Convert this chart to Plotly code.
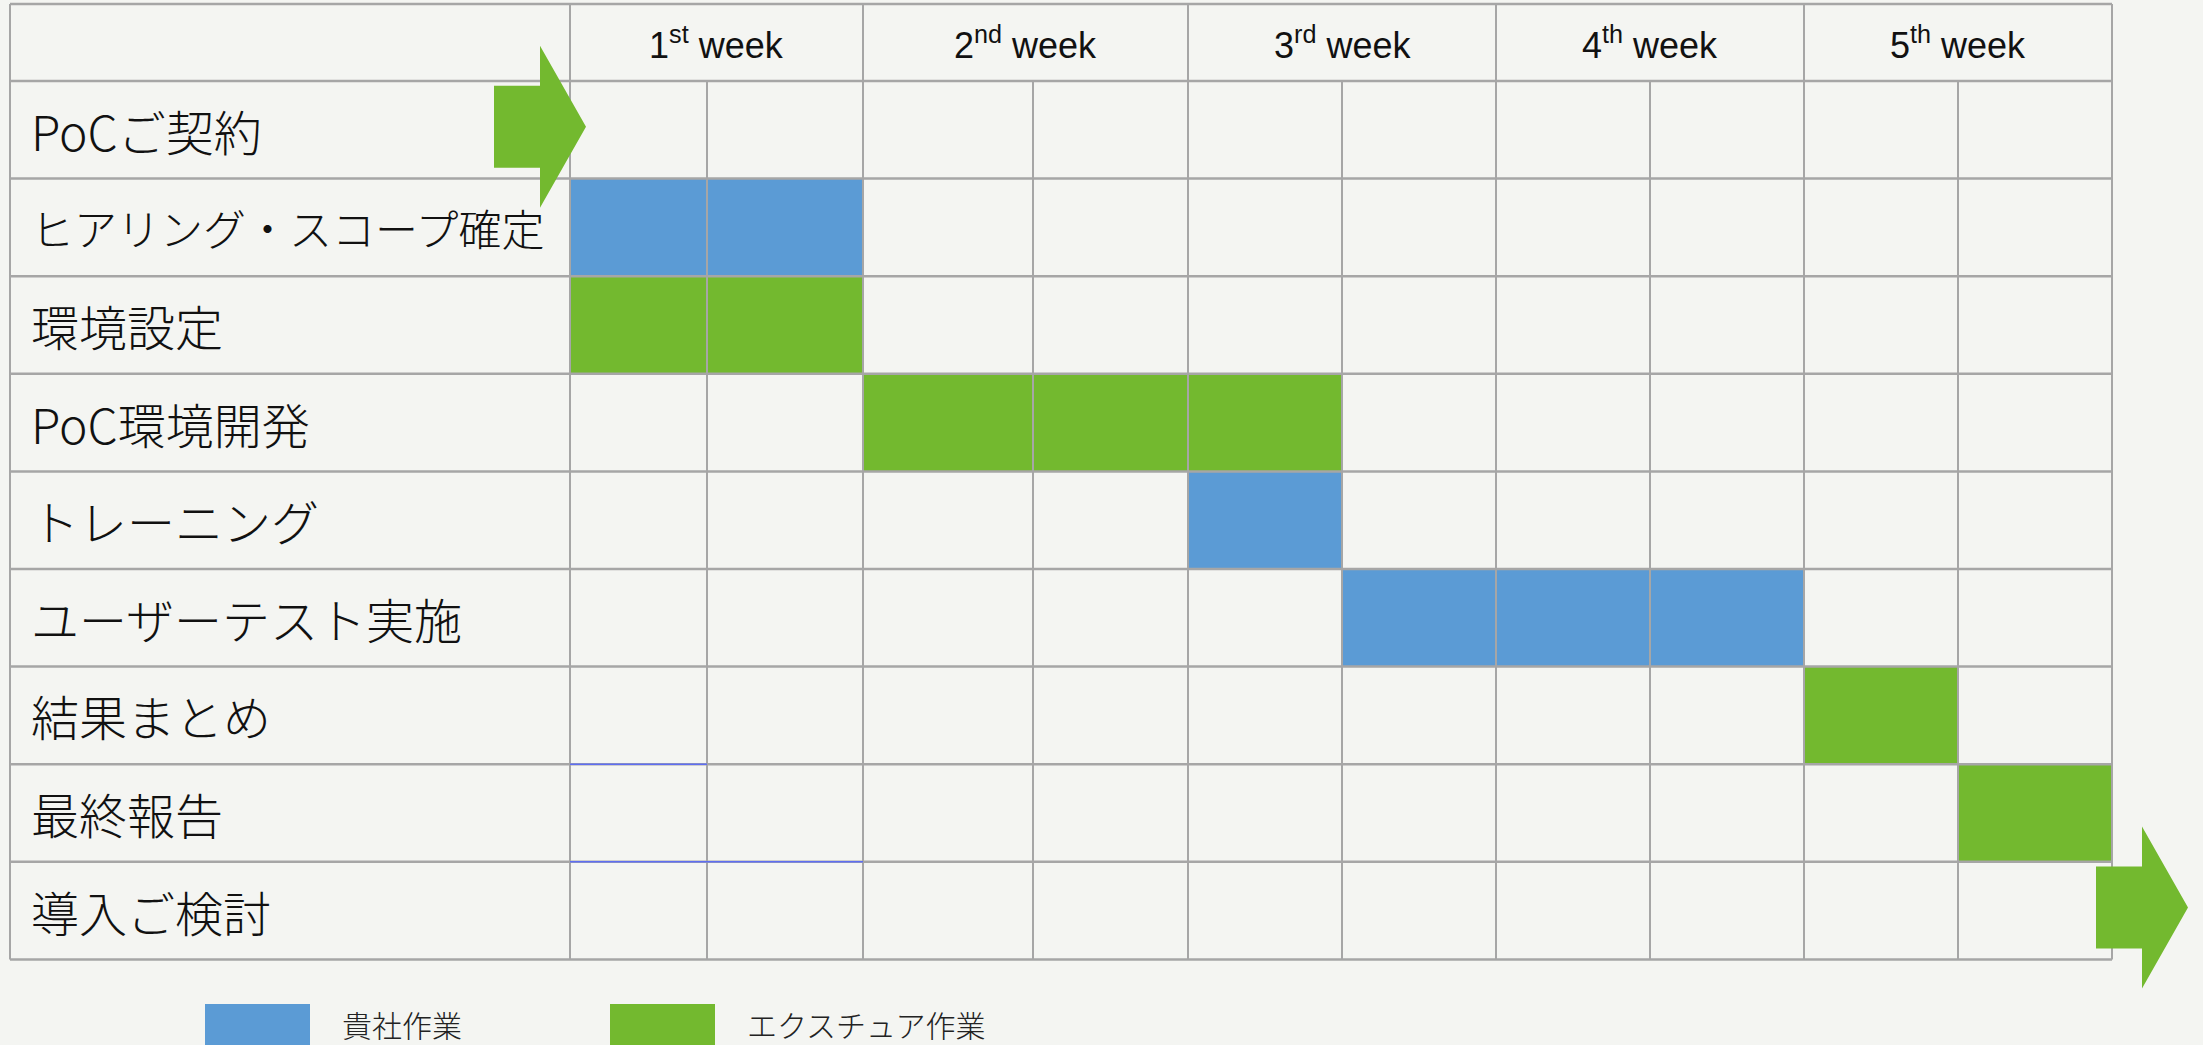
import plotly.graph_objects as go

# ---------------- data ----------------
tasks = ["PoCご契約", "ヒアリング・スコープ確定", "環境設定", "PoC環境開発", "トレーニング",
         "ユーザーテスト実施", "結果まとめ", "最終報告", "導入ご検討"]
weeks = ["1<sup>st</sup> week", "2<sup>nd</sup> week", "3<sup>rd</sup> week",
         "4<sup>th</sup> week", "5<sup>th</sup> week"]
series_names = ["貴社作業", "エクスチュア作業"]
# bars: task row, start half-week slot, end half-week slot, series index
bar_rows = [1, 2, 3, 4, 5, 6, 7]
bar_start = [0, 0, 2, 4, 5, 8, 9]
bar_end = [2, 2, 5, 5, 8, 9, 10]
bar_series = [0, 1, 1, 0, 0, 1, 1]
# arrows (milestones): task row, slot edge anchor
arrow_rows = [0, 8]
arrow_edge = [0, 10]

# ---------------- layout constants ----------------
W, H = 2203, 1045
BG = "#F4F5F2"
GRID = "#A6A6A6"
COLORS = ["#5B9BD5", "#73B92F"]
TABLE_L, LABEL_R = 10, 570
slot_edges = [570, 707, 863, 1033, 1188, 1342, 1496, 1650, 1804, 1958, 2112]
TABLE_R = slot_edges[-1]
HEAD_T, HEAD_B = 4, 81
ROW_H = 97.6
row_edges = [HEAD_B + ROW_H * i for i in range(len(tasks) + 1)]
row_centers = [(row_edges[i] + row_edges[i + 1]) / 2 for i in range(len(tasks))]
arrow_tip_offset = [16, 76]

fig = go.Figure()

# bars
for s, name in enumerate(series_names):
    idx = [i for i in range(len(bar_rows)) if bar_series[i] == s]
    fig.add_trace(go.Bar(
        orientation="h",
        y=[row_centers[bar_rows[i]] for i in idx],
        base=[slot_edges[bar_start[i]] for i in idx],
        x=[slot_edges[bar_end[i]] - slot_edges[bar_start[i]] for i in idx],
        width=ROW_H,
        marker=dict(color=COLORS[s], line=dict(width=0)),
        name=name, showlegend=False, hoverinfo="skip",
    ))

shapes = []
# horizontal lines
for y in [HEAD_T, HEAD_B] + row_edges[1:]:
    shapes.append(dict(type="line", x0=TABLE_L, x1=TABLE_R, y0=y, y1=y,
                       line=dict(color=GRID, width=2.5)))
# vertical lines: outer & label column
for x in [TABLE_L, LABEL_R, TABLE_R]:
    shapes.append(dict(type="line", x0=x, x1=x, y0=HEAD_T, y1=row_edges[-1],
                       line=dict(color=GRID, width=2)))
# week lines (through header) and half-week lines (body only)
for k, x in enumerate(slot_edges[1:-1], start=1):
    y0 = HEAD_T if k % 2 == 0 else HEAD_B
    shapes.append(dict(type="line", x0=x, x1=x, y0=y0, y1=row_edges[-1],
                       line=dict(color=GRID, width=2)))
# thin blue stray lines
shapes.append(dict(type="line", x0=slot_edges[0], x1=slot_edges[1], y0=row_edges[7], y1=row_edges[7],
                   line=dict(color="#5E6EF2", width=1.5)))
shapes.append(dict(type="line", x0=slot_edges[0], x1=slot_edges[2], y0=row_edges[8], y1=row_edges[8],
                   line=dict(color="#5E6EF2", width=1.5)))
# arrows
for r, e, off in zip(arrow_rows, arrow_edge, arrow_tip_offset):
    tip = slot_edges[e] + off
    cy = row_centers[r] - 3
    L, HL, HH, BH = 92, 46, 81, 41
    xb = tip - L
    xh = tip - HL
    path = (f"M {xb},{cy-BH} L {xh},{cy-BH} L {xh},{cy-HH} L {tip},{cy} "
            f"L {xh},{cy+HH} L {xh},{cy+BH} L {xb},{cy+BH} Z")
    shapes.append(dict(type="path", path=path, fillcolor=COLORS[1], line=dict(width=0)))
# legend swatches
legend_x = [205, 610]
for s in range(len(series_names)):
    shapes.append(dict(type="rect", x0=legend_x[s], x1=legend_x[s] + 105, y0=1004, y1=1070,
                       fillcolor=COLORS[s], line=dict(width=0)))

annotations = []
for i, t in enumerate(tasks):
    size = 43 if len(t) > 10 else 48
    annotations.append(dict(x=29, y=row_centers[i], text=t, showarrow=False, xanchor="left",
                            yanchor="middle", xref="x", yref="y",
                            font=dict(family="Noto Sans CJK JP", size=size, color="#111111", weight=300)))
for w, t in enumerate(weeks):
    xc = (slot_edges[2 * w] + slot_edges[2 * w + 2]) / 2
    annotations.append(dict(x=xc, y=(HEAD_T + HEAD_B) / 2, text=t, showarrow=False,
                            xanchor="center", yanchor="middle", xref="x", yref="y",
                            font=dict(family="Liberation Sans, Arial", size=36, color="#111111")))
for s, name in enumerate(series_names):
    annotations.append(dict(x=legend_x[s] + 135, y=1024, text=name, showarrow=False,
                            xanchor="left", yanchor="middle", xref="x", yref="y",
                            font=dict(family="Noto Sans CJK JP", size=30, color="#222222", weight=300)))

fig.update_layout(
    width=W, height=H, margin=dict(l=0, r=0, t=0, b=0),
    paper_bgcolor=BG, plot_bgcolor=BG,
    xaxis=dict(range=[0, W], visible=False, fixedrange=True),
    yaxis=dict(range=[H, 0], visible=False, fixedrange=True),
    shapes=shapes, annotations=annotations, bargap=0,
)
fig.write_html(
    "out.html",
    config={"displayModeBar": False},
    post_script="document.body.style.margin='0';document.body.style.overflow='hidden';"
                "document.body.style.background='" + BG + "';",
)
